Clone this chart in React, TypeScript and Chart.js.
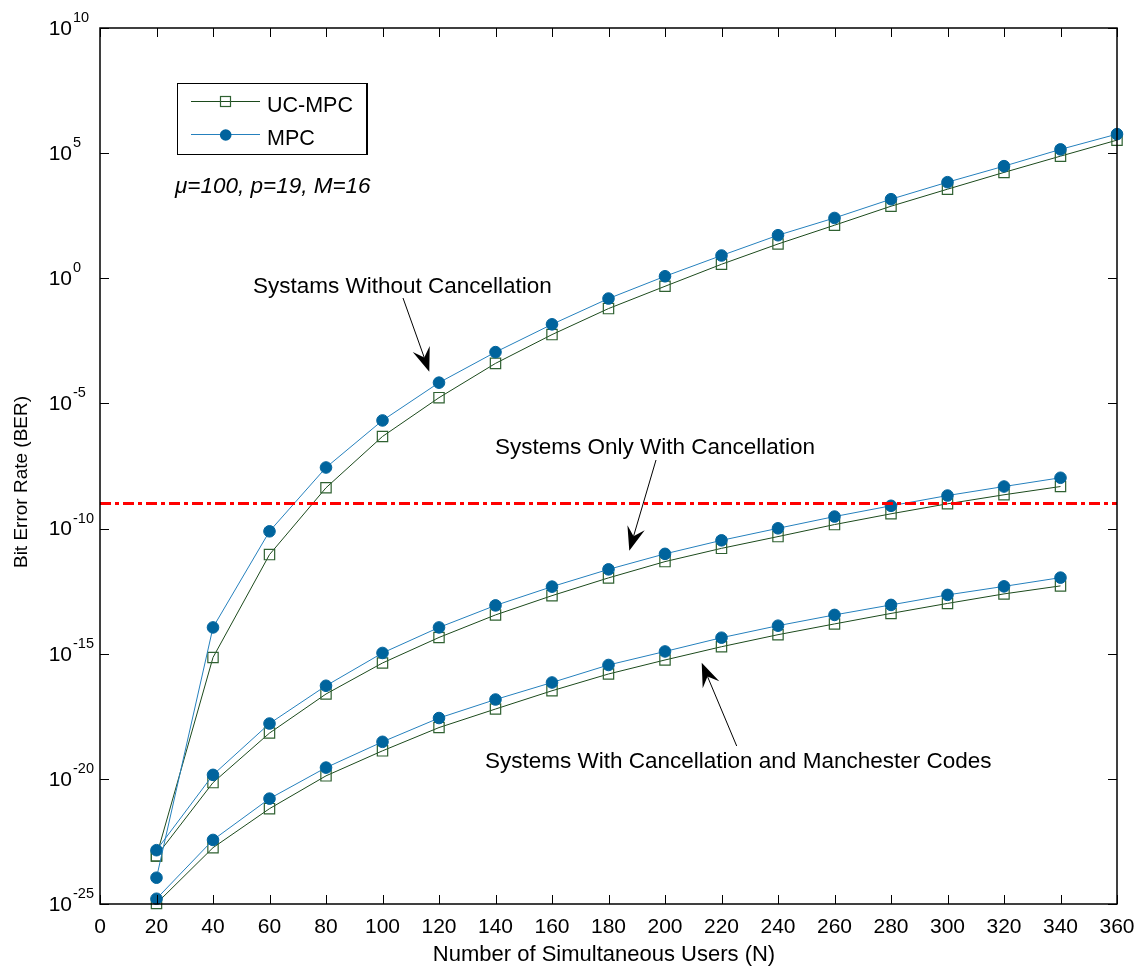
import { useEffect, useRef } from 'react';
import { Chart, registerables } from 'chart.js';

Chart.register(...registerables);

// ---- data (log10 of BER) ----
const usersTop = [20, 40, 60, 80, 100, 120, 140, 160, 180, 200, 220, 240, 260, 280, 300, 320, 340, 360];
const usersLow = [20, 40, 60, 80, 100, 120, 140, 160, 180, 200, 220, 240, 260, 280, 300, 320, 340];

const mpcNoCancelExp = [-23.95, -13.95, -10.11, -7.56, -5.68, -4.17, -2.95, -1.84, -0.81, 0.08, 0.91, 1.72, 2.41, 3.16, 3.84, 4.48, 5.15, 5.76];
const ucNoCancelExp = [-23.08, -15.15, -11.04, -8.37, -6.32, -4.77, -3.40, -2.25, -1.21, -0.32, 0.56, 1.37, 2.12, 2.88, 3.56, 4.23, 4.88, 5.52];

const mpcCancelExp = [-22.85, -19.84, -17.79, -16.28, -14.97, -13.95, -13.07, -12.32, -11.63, -11.01, -10.47, -9.99, -9.52, -9.09, -8.68, -8.32, -7.97];
const ucCancelExp = [-23.08, -20.15, -18.17, -16.61, -15.37, -14.35, -13.45, -12.68, -11.97, -11.32, -10.79, -10.32, -9.84, -9.41, -9.01, -8.65, -8.32];

const mpcManchesterExp = [-24.79, -22.44, -20.79, -19.55, -18.52, -17.57, -16.83, -16.15, -15.45, -14.91, -14.36, -13.88, -13.45, -13.05, -12.65, -12.31, -11.96];
const ucManchesterExp = [-24.98, -22.75, -21.19, -19.88, -18.88, -17.95, -17.21, -16.48, -15.81, -15.25, -14.72, -14.24, -13.81, -13.39, -12.99, -12.61, -12.29];

const thresholdBER = 1e-9;
const xTicks = [0, 20, 40, 60, 80, 100, 120, 140, 160, 180, 200, 220, 240, 260, 280, 300, 320, 340, 360];
const yTickExps = [10, 5, 0, -5, -10, -15, -20, -25];

const legendLabels = ['UC-MPC', 'MPC'];
const paramText = 'μ=100, p=19, M=16';
const noteNoCancel = 'Systams Without Cancellation';
const noteCancel = 'Systems Only With Cancellation';
const noteManchester = 'Systems With Cancellation and Manchester Codes';
const xTitle = 'Number of Simultaneous Users (N)';
const yTitle = 'Bit Error Rate (BER)';

// ---- styles ----
const FONT = "'Liberation Sans', Arial, Helvetica, sans-serif";
const MPC_LINE = '#2580bd';
const MPC_MARK = '#00649d';
const UC_LINE = '#1c4a1c';
const UC_MARK = '#2f6131';

const toPts = (xs: number[], exps: number[]) => exps.map((e, i) => ({ x: xs[i], y: Math.pow(10, e) }));

function mpcSet(xs: number[], exps: number[]) {
  return {
    data: toPts(xs, exps),
    borderColor: MPC_LINE,
    borderWidth: 1,
    pointStyle: 'circle',
    pointRadius: 5.8,
    pointBackgroundColor: MPC_MARK,
    pointBorderColor: MPC_MARK,
    pointBorderWidth: 1,
    tension: 0,
    clip: false as const,
  };
}
function ucSet(xs: number[], exps: number[]) {
  return {
    data: toPts(xs, exps),
    borderColor: UC_LINE,
    borderWidth: 1,
    pointStyle: 'rect',
    pointRadius: 7.3,
    pointBackgroundColor: 'rgba(0,0,0,0)',
    pointBorderColor: UC_MARK,
    pointBorderWidth: 1.2,
    tension: 0,
    clip: false as const,
  };
}

function drawArrow(ctx: CanvasRenderingContext2D, sx: number, sy: number, tx: number, ty: number) {
  const dx = tx - sx, dy = ty - sy;
  const len = Math.hypot(dx, dy);
  const ux = dx / len, uy = dy / len;
  const px = -uy, py = ux;
  const L = 24, W = 9, notch = 15;
  ctx.save();
  ctx.strokeStyle = '#000';
  ctx.lineWidth = 1;
  ctx.beginPath();
  ctx.moveTo(sx, sy);
  ctx.lineTo(tx - ux * notch, ty - uy * notch);
  ctx.stroke();
  ctx.fillStyle = '#000';
  ctx.beginPath();
  ctx.moveTo(tx, ty);
  ctx.lineTo(tx - ux * L + px * W, ty - uy * L + py * W);
  ctx.lineTo(tx - ux * notch, ty - uy * notch);
  ctx.lineTo(tx - ux * L - px * W, ty - uy * L - py * W);
  ctx.closePath();
  ctx.fill();
  ctx.restore();
}

const decorPlugin = {
  id: 'decor',
  afterDraw(chart: any) {
    const ctx: CanvasRenderingContext2D = chart.ctx;
    const { left, right, top, bottom } = chart.chartArea;
    const xs = chart.scales.x;
    const ys = chart.scales.y;
    ctx.save();
    // axes box
    ctx.strokeStyle = '#000';
    ctx.lineWidth = 1.5;
    ctx.strokeRect(left, top, right - left, bottom - top);
    // ticks
    const tl = 9;
    ctx.lineWidth = 1;
    ctx.beginPath();
    xTicks.forEach((v) => {
      const x = Math.round(xs.getPixelForValue(v)) + 0.5;
      ctx.moveTo(x, bottom);
      ctx.lineTo(x, bottom - tl);
      ctx.moveTo(x, top);
      ctx.lineTo(x, top + tl);
    });
    yTickExps.forEach((e) => {
      const y = Math.round(ys.getPixelForValue(Math.pow(10, e))) + 0.5;
      ctx.moveTo(left, y);
      ctx.lineTo(left + tl, y);
      ctx.moveTo(right, y);
      ctx.lineTo(right - tl, y);
    });
    ctx.stroke();

    ctx.fillStyle = '#000';
    // x tick labels
    ctx.font = `21px ${FONT}`;
    ctx.textAlign = 'center';
    ctx.textBaseline = 'alphabetic';
    xTicks.forEach((v) => {
      ctx.fillText(String(v), xs.getPixelForValue(v), bottom + 29);
    });
    // y tick labels 10^e
    yTickExps.forEach((e) => {
      const y = ys.getPixelForValue(Math.pow(10, e));
      ctx.font = `21px ${FONT}`;
      ctx.textAlign = 'right';
      ctx.textBaseline = 'middle';
      ctx.fillText('10', 72, y + 1);
      ctx.font = `14.5px ${FONT}`;
      ctx.textAlign = 'left';
      ctx.fillText(String(e), 73, y - 10);
    });
    // axis titles
    ctx.font = `22px ${FONT}`;
    ctx.textAlign = 'center';
    ctx.textBaseline = 'alphabetic';
    ctx.fillText(xTitle, 604, 961);
    ctx.save();
    ctx.font = `19px ${FONT}`;
    ctx.translate(27, 482);
    ctx.rotate(-Math.PI / 2);
    ctx.fillText(yTitle, 0, 0);
    ctx.restore();

    // legend
    ctx.lineWidth = 1;
    ctx.strokeStyle = '#000';
    ctx.strokeRect(177.5, 83.5, 189, 71);
    ctx.lineWidth = 2;
    ctx.beginPath();
    ctx.moveTo(367, 83);
    ctx.lineTo(367, 155);
    ctx.stroke();
    // UC-MPC sample
    ctx.lineWidth = 1;
    ctx.strokeStyle = UC_LINE;
    ctx.beginPath();
    ctx.moveTo(191, 101.5);
    ctx.lineTo(260, 101.5);
    ctx.stroke();
    ctx.strokeStyle = UC_MARK;
    ctx.lineWidth = 1.2;
    ctx.strokeRect(220.5, 96.5, 10, 10);
    // MPC sample
    ctx.lineWidth = 1;
    ctx.strokeStyle = MPC_LINE;
    ctx.beginPath();
    ctx.moveTo(191, 134.5);
    ctx.lineTo(260, 134.5);
    ctx.stroke();
    ctx.fillStyle = MPC_MARK;
    ctx.beginPath();
    ctx.arc(225.7, 135, 5.8, 0, Math.PI * 2);
    ctx.fill();
    ctx.fillStyle = '#000';
    ctx.font = `21.5px ${FONT}`;
    ctx.textAlign = 'left';
    ctx.textBaseline = 'alphabetic';
    ctx.fillText(legendLabels[0], 267, 112);
    ctx.fillText(legendLabels[1], 267, 145);

    // parameter text
    ctx.font = `italic 22.5px ${FONT}`;
    ctx.fillText(paramText, 175, 193);

    // annotations
    ctx.font = `22.5px ${FONT}`;
    ctx.fillText(noteNoCancel, 253, 293);
    ctx.fillText(noteCancel, 495, 454);
    ctx.fillText(noteManchester, 485, 768);

    drawArrow(ctx, 403, 298, 429.3, 371.7);
    drawArrow(ctx, 656, 460, 629.3, 550.7);
    drawArrow(ctx, 736.7, 746, 701.7, 662.7);
    ctx.restore();
  },
};

export default function App() {
  const ref = useRef<HTMLCanvasElement | null>(null);
  useEffect(() => {
    if (!ref.current) return;
    const chart = new Chart(ref.current, {
      type: 'line',
      data: {
        datasets: [
          {
            data: [
              { x: 0, y: thresholdBER },
              { x: 360, y: thresholdBER },
            ],
            borderColor: '#ff0000',
            borderWidth: 3,
            borderDash: [11, 4, 4, 4],
            pointRadius: 0,
            clip: false,
          } as any,
          mpcSet(usersTop, mpcNoCancelExp),
          mpcSet(usersLow, mpcCancelExp),
          mpcSet(usersLow, mpcManchesterExp),
          ucSet(usersTop, ucNoCancelExp),
          ucSet(usersLow, ucCancelExp),
          ucSet(usersLow, ucManchesterExp),
        ],
      },
      options: {
        responsive: false,
        animation: false,
        devicePixelRatio: 1,
        parsing: true,
        layout: { padding: { left: 0, right: 20, top: 28, bottom: 0 } },
        plugins: {
          legend: { display: false },
          tooltip: { enabled: false },
        },
        scales: {
          x: {
            type: 'linear',
            min: 0,
            max: 360,
            grid: { display: false },
            border: { display: false },
            ticks: { display: false },
            afterFit: (s: any) => {
              s.height = 62;
            },
          },
          y: {
            type: 'logarithmic',
            min: 1e-25,
            max: 1e10,
            grid: { display: false },
            border: { display: false },
            ticks: { display: false },
            afterFit: (s: any) => {
              s.width = 100;
            },
          },
        },
      } as any,
      plugins: [decorPlugin],
    });
    return () => chart.destroy();
  }, []);
  return (
    <div style={{ position: 'absolute', left: 0, top: 0, width: 1137, height: 966, background: '#fff' }}>
      <canvas ref={ref} width={1137} height={966} style={{ display: 'block' }} />
    </div>
  );
}
